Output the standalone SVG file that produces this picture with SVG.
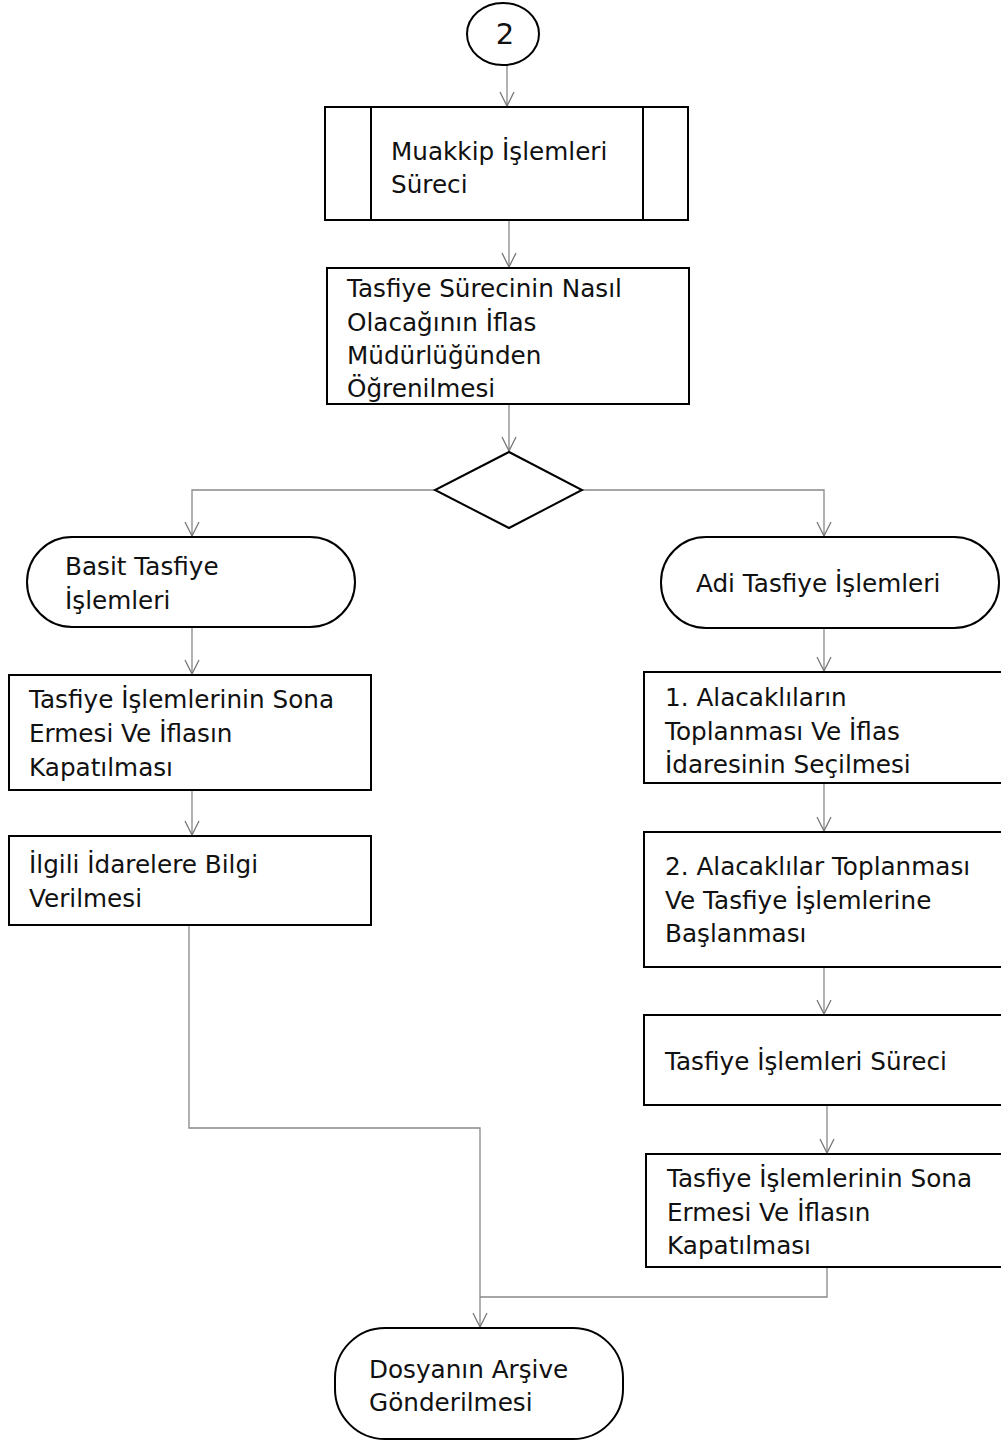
<svg xmlns="http://www.w3.org/2000/svg" width="1001" height="1441" viewBox="0 0 1001 1441">
<defs>
<marker id="arr" markerUnits="userSpaceOnUse" markerWidth="20" markerHeight="20" refX="15" refY="9" orient="auto">
<path d="M1,2 L15,9 L1,16" fill="none" stroke="#777" stroke-width="1.3"/>
</marker>
<style>
.n{fill:#fff;stroke:#000;stroke-width:2}
.t{font-family:"DejaVu Sans","Verdana",sans-serif;font-size:24.7px;fill:#111}
.c{fill:none;stroke:#888;stroke-width:1.3}
.a{marker-end:url(#arr)}
</style>
</defs>
<rect width="1001" height="1441" fill="#fff"/>
<g id="connectors">
<line class="c a" x1="507" y1="65" x2="507" y2="106"/>
<line class="c a" x1="509" y1="220" x2="509" y2="267"/>
<line class="c a" x1="509" y1="404" x2="509" y2="451"/>
<polyline class="c a" points="435,490 192,490 192,536"/>
<polyline class="c a" points="582,490 824,490 824,536"/>
<line class="c a" x1="192" y1="627" x2="192" y2="674"/>
<line class="c a" x1="192" y1="790" x2="192" y2="835"/>
<line class="c a" x1="824" y1="628" x2="824" y2="671"/>
<line class="c a" x1="824" y1="783" x2="824" y2="831"/>
<line class="c a" x1="824" y1="967" x2="824" y2="1014"/>
<line class="c a" x1="827" y1="1105" x2="827" y2="1153"/>
<polyline class="c a" points="189,925 189,1128 480,1128 480,1327"/>
<polyline class="c" points="827,1267 827,1297 480,1297"/>
</g>
<g id="start">
<ellipse class="n" cx="503" cy="34" rx="36" ry="31"/>
<text class="t" x="505" y="44" text-anchor="middle" style="font-size:29px">2</text>
</g>
<g id="muakkip">
<rect class="n" x="325" y="107" width="363" height="113"/>
<line x1="371" y1="107" x2="371" y2="220" stroke="#000" stroke-width="2"/>
<line x1="643" y1="107" x2="643" y2="220" stroke="#000" stroke-width="2"/>
<text class="t" x="391" y="160">Muakkip İşlemleri</text>
<text class="t" x="391" y="193">Süreci</text>
</g>
<g id="ogrenme">
<rect class="n" x="327" y="268" width="362" height="136"/>
<text class="t" x="347" y="297">Tasfiye Sürecinin Nasıl</text>
<text class="t" x="347" y="331">Olacağının İflas</text>
<text class="t" x="347" y="364">Müdürlüğünden</text>
<text class="t" x="347" y="397">Öğrenilmesi</text>
</g>
<g id="decision">
<polygon class="n" points="509,452 582,490 509,528 435,490"/>
</g>
<g id="basit">
<rect class="n" x="27" y="537" width="328" height="90" rx="45" ry="45"/>
<text class="t" x="65" y="575">Basit Tasfiye</text>
<text class="t" x="65" y="609">İşlemleri</text>
</g>
<g id="adi">
<rect class="n" x="661" y="537" width="338" height="91" rx="45" ry="45"/>
<text class="t" x="696" y="592">Adi Tasfiye İşlemleri</text>
</g>
<g id="sona1">
<rect class="n" x="9" y="675" width="362" height="115"/>
<text class="t" x="29" y="708">Tasfiye İşlemlerinin Sona</text>
<text class="t" x="29" y="742">Ermesi Ve İflasın</text>
<text class="t" x="29" y="776">Kapatılması</text>
</g>
<g id="bilgi">
<rect class="n" x="9" y="836" width="362" height="89"/>
<text class="t" x="29" y="873">İlgili İdarelere Bilgi</text>
<text class="t" x="29" y="907">Verilmesi</text>
</g>
<g id="alacak1">
<rect class="n" x="644" y="672" width="370" height="111"/>
<text class="t" x="665" y="706">1. Alacaklıların</text>
<text class="t" x="665" y="740">Toplanması Ve İflas</text>
<text class="t" x="665" y="773">İdaresinin Seçilmesi</text>
</g>
<g id="alacak2">
<rect class="n" x="644" y="832" width="370" height="135"/>
<text class="t" x="665" y="875">2. Alacaklılar Toplanması</text>
<text class="t" x="665" y="909">Ve Tasfiye İşlemlerine</text>
<text class="t" x="665" y="942">Başlanması</text>
</g>
<g id="surec">
<rect class="n" x="644" y="1015" width="370" height="90"/>
<text class="t" x="665" y="1070">Tasfiye İşlemleri Süreci</text>
</g>
<g id="sona2">
<rect class="n" x="646" y="1154" width="368" height="113"/>
<text class="t" x="667" y="1187">Tasfiye İşlemlerinin Sona</text>
<text class="t" x="667" y="1221">Ermesi Ve İflasın</text>
<text class="t" x="667" y="1254">Kapatılması</text>
</g>
<g id="arsiv">
<rect class="n" x="335" y="1328" width="288" height="111" rx="50" ry="50"/>
<text class="t" x="369" y="1378">Dosyanın Arşive</text>
<text class="t" x="369" y="1411">Gönderilmesi</text>
</g>
</svg>
